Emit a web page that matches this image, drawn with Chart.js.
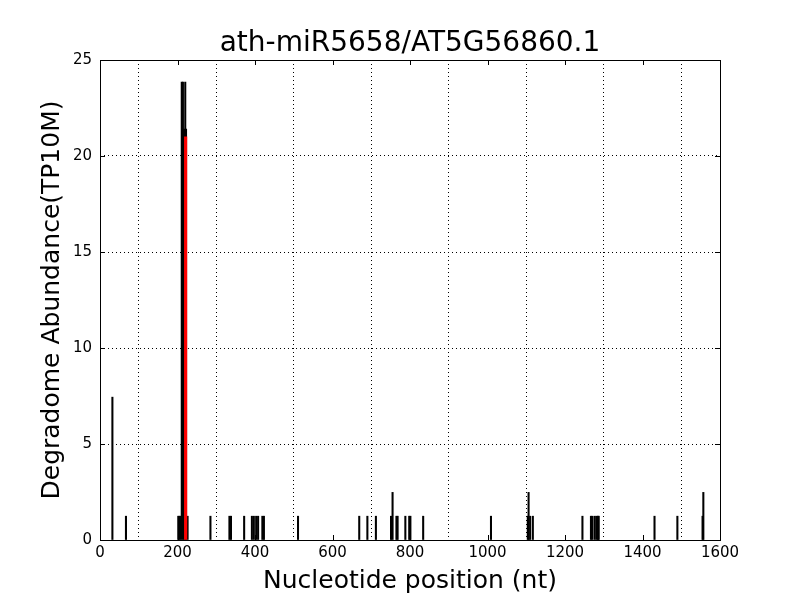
<!DOCTYPE html>
<html>
<head>
<meta charset="utf-8">
<script src="https://cdn.jsdelivr.net/npm/chart.js@4"></script>
<style>
html,body{margin:0;padding:0;background:#fff;}
#wrap{width:800px;height:600px;}
</style>
</head>
<body>
<div id="wrap"><canvas id="c" width="800" height="600"></canvas></div>
<script>
const chartTitle = 'ath-miR5658/AT5G56860.1';
const xLabel = 'Nucleotide position (nt)';
const yLabel = 'Degradome Abundance(TP10M)';

// degradome tags (black)
const tagPositions = [32, 67, 202, 205, 208, 211, 214, 217, 220, 222, 226, 285, 334, 338, 372,
  392, 397, 403, 408, 419, 423, 511, 669, 690, 712, 751, 755, 765, 768, 788, 798, 801, 834,
  1009, 1104, 1106, 1110, 1117, 1245, 1267, 1271, 1277, 1282, 1285, 1287, 1431, 1490, 1555, 1557];
const tagValues = [7.44, 1.24, 1.24, 1.24, 1.24, 23.85, 23.85, 21.4, 23.85, 21.4, 1.24, 1.24, 1.24, 1.24, 1.24,
  1.24, 1.24, 1.24, 1.24, 1.24, 1.24, 1.24, 1.24, 1.24, 1.24, 1.24, 2.48, 1.24, 1.24, 1.24, 1.24, 1.24, 1.24,
  1.24, 1.24, 2.48, 1.24, 1.24, 1.24, 1.24, 1.24, 1.24, 1.24, 1.24, 1.24, 1.24, 1.24, 1.24, 2.48];

// miRNA cleavage site (red)
const sitePositions = [221];
const siteValues = [21.0];

const xTicks = [0, 200, 400, 600, 800, 1000, 1200, 1400, 1600];
const yTicks = [0, 5, 10, 15, 20, 25];

const FONT = 'DejaVu Sans';

const frameTicks = {
  id: 'frameTicks',
  afterDatasetsDraw(chart) {
    const {ctx, chartArea: a, scales: {x, y}} = chart;
    ctx.save();
    ctx.strokeStyle = '#000';
    ctx.lineWidth = 1;
    ctx.beginPath();
    const L = 5;
    xTicks.forEach(v => {
      const px = Math.round(x.getPixelForValue(v)) + 0.5;
      ctx.moveTo(px, a.bottom); ctx.lineTo(px, a.bottom - L);
      ctx.moveTo(px, a.top); ctx.lineTo(px, a.top + L);
    });
    yTicks.forEach(v => {
      const py = Math.round(y.getPixelForValue(v)) + 0.5;
      ctx.moveTo(a.left, py); ctx.lineTo(a.left + L, py);
      ctx.moveTo(a.right, py); ctx.lineTo(a.right - L, py);
    });
    ctx.stroke();
    ctx.strokeRect(Math.round(a.left) + 0.5, Math.round(a.top) + 0.5,
      Math.round(a.right - a.left), Math.round(a.bottom - a.top));
    ctx.restore();
  }
};

new Chart(document.getElementById('c'), {
  type: 'bar',
  data: {
    datasets: [
      {
        label: 'tags',
        data: tagPositions.map((p, i) => ({x: p, y: tagValues[i]})),
        backgroundColor: '#000',
        borderWidth: 0,
        barThickness: 1.4,
        grouped: false,
        order: 2
      },
      {
        label: 'site',
        data: sitePositions.map((p, i) => ({x: p, y: siteValues[i]})),
        backgroundColor: '#ff0000',
        borderWidth: 0,
        barThickness: 2.5,
        grouped: false,
        order: 1
      }
    ]
  },
  plugins: [frameTicks],
  options: {
    responsive: false,
    animation: false,
    devicePixelRatio: 1,
    layout: {padding: {left: 20, right: 0, top: 0, bottom: 0}},
    plugins: {
      legend: {display: false},
      tooltip: {enabled: false},
      title: {
        display: true,
        text: chartTitle,
        color: '#000',
        font: {family: FONT, size: 28, weight: 'normal', lineHeight: 1},
        padding: {top: 30, bottom: 2}
      }
    },
    scales: {
      x: {
        type: 'linear',
        min: 0, max: 1600,
        offset: false,
        afterBuildTicks: s => { s.ticks = xTicks.map(v => ({value: v})); },
        afterFit: s => { s.height = 60; },
        grid: {display: true, color: '#000', lineWidth: 1, drawTicks: false},
        border: {display: false, dash: [1, 3]},
        ticks: {color: '#000', font: {family: FONT, size: 15}, padding: 4, maxRotation: 0,
          callback: v => String(v)},
        title: {display: true, text: xLabel, color: '#000',
          font: {family: FONT, size: 25, lineHeight: 1}, padding: {top: 0, bottom: 6.5}}
      },
      y: {
        type: 'linear',
        min: 0, max: 25,
        afterBuildTicks: s => { s.ticks = yTicks.map(v => ({value: v})); },
        afterFit: s => { s.width = 80; },
        grid: {display: true, color: '#000', lineWidth: 1, drawTicks: false},
        border: {display: false, dash: [1, 3]},
        ticks: {color: '#000', font: {family: FONT, size: 15}, padding: 8,
          callback: v => String(v)},
        title: {display: true, text: yLabel, color: '#000',
          font: {family: FONT, size: 25, lineHeight: 1}, padding: {top: 19.5, bottom: 0}}
      },
      yRight: {
        type: 'linear',
        position: 'right',
        min: 0, max: 25,
        afterFit: s => { s.width = 80; },
        grid: {display: false, drawTicks: false},
        border: {display: false},
        ticks: {display: false}
      }
    }
  }
});
</script>
</body>
</html>
